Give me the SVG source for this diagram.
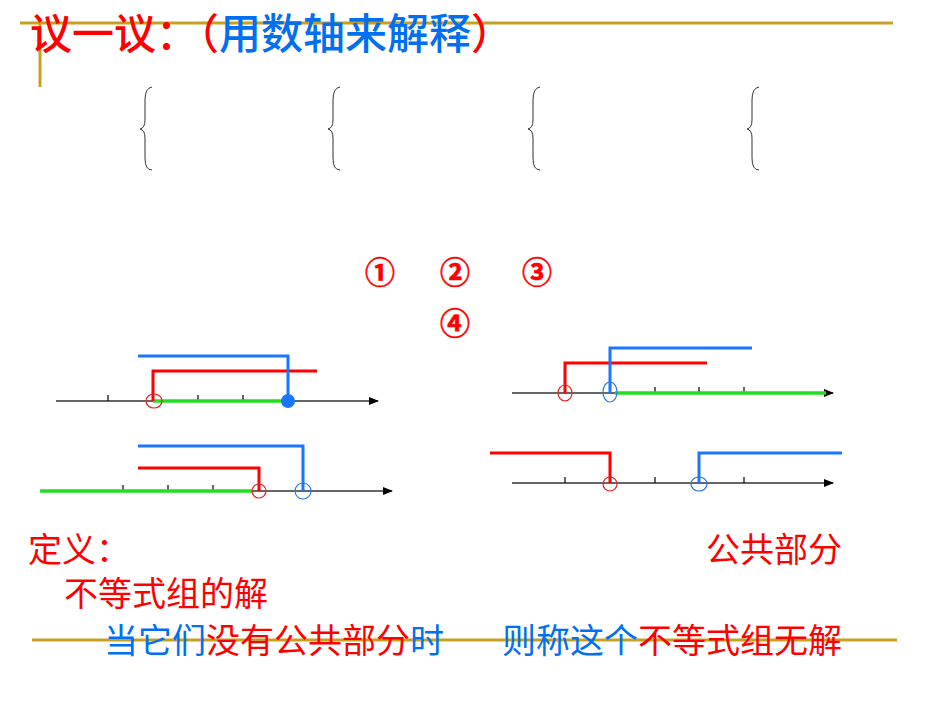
<svg xmlns="http://www.w3.org/2000/svg" width="950" height="713" viewBox="0 0 950 713">
<defs>
<style>
.t{font-family:"Noto Sans CJK SC","Liberation Sans",sans-serif;}
.r{fill:#ff0000}.b{fill:#0070f0}
.ax{stroke:#333;stroke-width:1.5;fill:none}
.tk{stroke:#000;stroke-width:1.2}
.rl{stroke:#ff0000;stroke-width:3;fill:none}
.bl{stroke:#1a75ff;stroke-width:3;fill:none}
.gl{stroke:#22dd22;stroke-width:3.5}
.rc{stroke:#e02020;stroke-width:1.2;fill:none}
.bc{stroke:#2a7ae0;stroke-width:1.2;fill:none}
.br{stroke:#333;stroke-width:1;fill:none}
.gold{stroke:#c8a020;stroke-width:3}
</style>
<marker id="ar" markerWidth="10" markerHeight="8" refX="9" refY="4" orient="auto" markerUnits="userSpaceOnUse"><path d="M0,0L10,4L0,8z" fill="#000"/></marker>
</defs>
<rect width="950" height="713" fill="#fff"/>
<line class="gold" x1="20" y1="23" x2="893" y2="23"/>
<line class="gold" x1="40" y1="23" x2="40" y2="87"/>
<line class="gold" x1="32" y1="640" x2="897" y2="640"/>
<text class="t" y="49" font-size="42" font-weight="500"><tspan x="30" class="r">议一议：（</tspan><tspan class="b">用数轴来解释</tspan><tspan class="r">）</tspan></text>
<g id="braces">
<path class="br" d="M152,87 Q145,88 145,100 L145,120 Q145,128 140,129 Q145,130 145,138 L145,158 Q145,170 152,170"/>
<path class="br" d="M340,87 Q333,88 333,100 L333,120 Q333,128 328,129 Q333,130 333,138 L333,158 Q333,170 340,170"/>
<path class="br" d="M540,87 Q533,88 533,100 L533,120 Q533,128 528,129 Q533,130 533,138 L533,158 Q533,170 540,170"/>
<path class="br" d="M759,87 Q752,88 752,100 L752,120 Q752,128 747,129 Q752,130 752,138 L752,158 Q752,170 759,170"/>
</g>
<g id="nums" class="t r" font-size="30" font-weight="bold" stroke="#ff0000" stroke-width="0.6">
<text x="365" y="283">①</text><text x="440" y="283">②</text><text x="522" y="283">③</text><text x="440" y="334">④</text>
</g>
<g id="connectors">
<g id="nl1">
<line class="ax" x1="56" y1="401" x2="378" y2="401" marker-end="url(#ar)"/>
<path class="tk" d="M108,395V401M153,395V401M198,395V401M243,395V401"/>
<line class="gl" x1="153" y1="401" x2="288" y2="401"/>
<path class="rl" d="M153,401V371H317"/>
<path class="bl" d="M138,356H288V401"/>
<ellipse class="rc" cx="154" cy="401" rx="8" ry="7"/>
<circle cx="288" cy="401" r="7" fill="#1a75ff"/>
</g>
<g id="nl2">
<line class="ax" x1="40" y1="491" x2="392" y2="491" marker-end="url(#ar)"/>
<path class="tk" d="M123,485V491M168,485V491M213,485V491M303,485V491"/>
<line class="gl" x1="40" y1="491" x2="252" y2="491"/>
<path class="rl" d="M138,468H259V491"/>
<path class="bl" d="M138,446H303V491"/>
<ellipse class="rc" cx="259" cy="491" rx="7" ry="7"/>
<ellipse class="bc" cx="303" cy="491" rx="8" ry="8"/>
</g>
<g id="nl3">
<line class="ax" x1="512" y1="393" x2="833" y2="393" marker-end="url(#ar)"/>
<path class="tk" d="M565,387V393M610,387V393M655,387V393M699,387V393M744,387V393"/>
<line class="gl" x1="615" y1="393" x2="826" y2="393"/>
<path class="rl" d="M565,393V363H707"/>
<path class="bl" d="M610,393V348H752"/>
<ellipse class="rc" cx="565" cy="393" rx="7" ry="8"/>
<ellipse class="bc" cx="610" cy="392" rx="7" ry="10"/>
</g>
<g id="nl4">
<line class="ax" x1="512" y1="483" x2="833" y2="483" marker-end="url(#ar)"/>
<path class="tk" d="M565,477V483M610,477V483M655,477V483M699,477V483M744,477V483"/>
<path class="rl" d="M490,453H610V483"/>
<path class="bl" d="M699,483V453H842"/>
<ellipse class="rc" cx="610" cy="484" rx="7" ry="7"/>
<ellipse class="bc" cx="699" cy="484" rx="8" ry="7"/>
</g>
</g>
<g id="texts" class="t" font-size="34">
<text x="28" y="562" class="r">定义：</text>
<text x="706" y="562" class="r">公共部分</text>
<text x="64" y="606" class="r">不等式组的解</text>
<text x="104" y="653"><tspan class="b">当它们</tspan><tspan class="r">没有公共部分</tspan><tspan class="b">时</tspan><tspan x="502" class="b">则称这个</tspan><tspan class="r">不等式组无解</tspan></text>
</g>
</svg>
